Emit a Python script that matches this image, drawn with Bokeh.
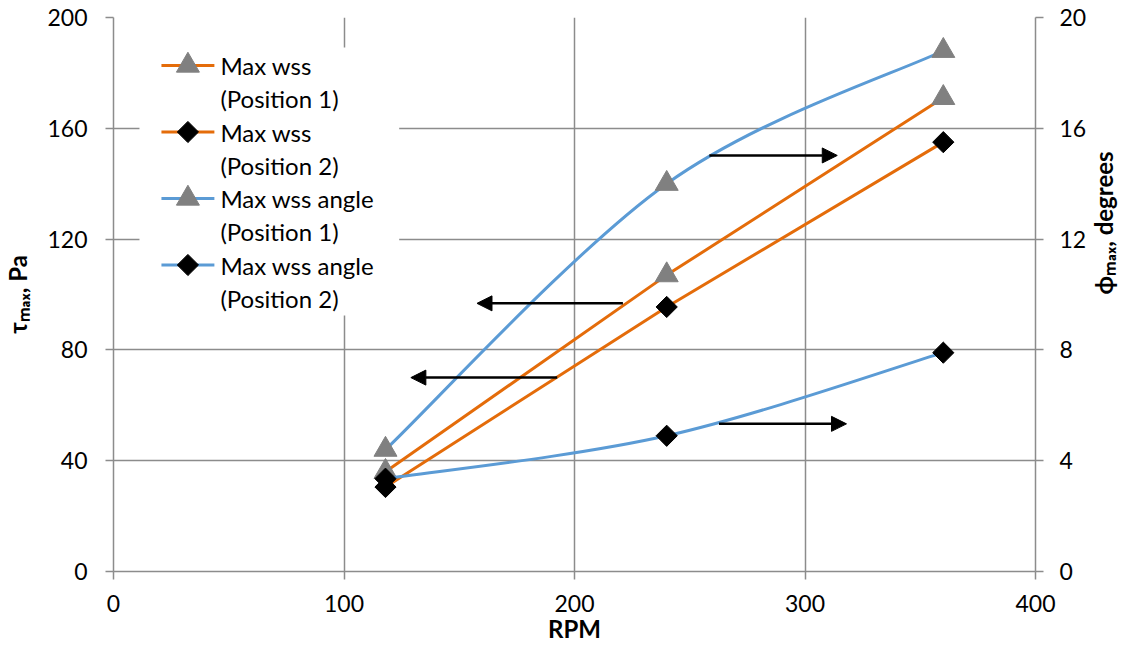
import math
from bokeh.plotting import figure
from bokeh.models import (Range1d, LinearAxis, SingleIntervalTicker, Arrow, NormalHead)
from bokeh.core.properties import value
from bokeh.embed import file_html
from bokeh.resources import INLINE

# ---- data ----
rpm = [118, 240, 360]
wss_pos1 = [36.0, 107.0, 171.0]      # Pa (left axis)
wss_pos2 = [30.5, 95.5, 155.0]       # Pa (left axis)
angle_pos1 = [4.4, 14.0, 18.8]       # degrees (right axis)
angle_pos2 = [3.35, 4.9, 7.9]        # degrees (right axis)

series_labels = ["Max wss", "Max wss", "Max wss angle", "Max wss angle"]
series_sublabels = ["(Position 1)", "(Position 2)", "(Position 1)", "(Position 2)"]

# annotation arrows (left-axis data units)
arrow_x_start = [221.0, 192.5, 258.5, 262.7]
arrow_x_end = [157.7, 129.0, 314.0, 318.0]
arrow_y = [96.8, 70.0, 150.2, 53.3]

# ---- styling / layout ----
ORANGE = "#E46C0A"
BLUE = "#5B9BD5"
GRAY = "#808080"
GRID = "#8C8C8C"
FONT = "Lato"

W, H = 1135, 646
BL, BR, BT, BB = 112, 100, 17, 75
FRAME_W = W - BL - BR
FRAME_H = H - BT - BB
X0, X1, Y0, Y1 = 0, 400, 0, 200


def fx(dx):
    """pixel offset from frame left -> x data"""
    return X0 + dx / FRAME_W * (X1 - X0)


def fy(dy):
    """pixel offset from frame top -> y data"""
    return Y1 - dy / FRAME_H * (Y1 - Y0)


def smooth_segments(xs, ys):
    """Excel-style smoothed line: cubic Bezier segments through the points."""
    n = len(xs)
    out = {k: [] for k in ("x0", "y0", "x1", "y1", "cx0", "cy0", "cx1", "cy1")}
    for i in range(n - 1):
        pm = max(i - 1, 0)
        pp = min(i + 2, n - 1)
        out["x0"].append(xs[i]); out["y0"].append(ys[i])
        out["x1"].append(xs[i + 1]); out["y1"].append(ys[i + 1])
        out["cx0"].append(xs[i] + (xs[i + 1] - xs[pm]) / 6.0)
        out["cy0"].append(ys[i] + (ys[i + 1] - ys[pm]) / 6.0)
        out["cx1"].append(xs[i + 1] - (xs[pp] - xs[i]) / 6.0)
        out["cy1"].append(ys[i + 1] - (ys[pp] - ys[i]) / 6.0)
    return out


p = figure(width=W, height=H, x_range=Range1d(X0, X1), y_range=Range1d(Y0, Y1),
           output_backend="svg", toolbar_location=None,
           min_border_left=BL, min_border_right=BR, min_border_top=BT,
           min_border_bottom=BB)
p.extra_y_ranges = {"angle": Range1d(0, 20)}
p.outline_line_color = None
p.background_fill_color = "white"
p.border_fill_color = "white"


def style_axis(ax):
    ax.axis_line_color = GRID
    ax.axis_line_width = 1.5
    ax.major_tick_line_color = GRID
    ax.major_tick_line_width = 1.5
    ax.major_tick_out = 8
    ax.major_tick_in = 0
    ax.minor_tick_line_color = None
    ax.major_label_text_font = FONT
    ax.major_label_text_font_size = "23px"
    ax.major_label_text_color = "black"
    ax.axis_label_text_font = FONT
    ax.axis_label_text_font_style = "bold"
    ax.axis_label_text_font_size = "24px"
    ax.axis_label_text_color = "black"


p.xaxis.ticker = SingleIntervalTicker(interval=100)
p.yaxis.ticker = SingleIntervalTicker(interval=40)
style_axis(p.xaxis[0])
style_axis(p.yaxis[0])
p.xaxis.axis_label = "RPM"
p.xaxis.major_label_standoff = 15
p.xaxis.axis_label_standoff = -1
p.yaxis.axis_label = "τₘₐₓ, Pa"
p.yaxis.major_label_standoff = 18
p.yaxis.axis_label_standoff = 12

right = LinearAxis(y_range_name="angle", ticker=SingleIntervalTicker(interval=4))
style_axis(right)
right.axis_label = "ϕₘₐₓ, degrees"
right.major_label_standoff = 16
right.axis_label_standoff = 14
right.axis_label_orientation = math.pi / 2
p.add_layout(right, "right")

p.xgrid.ticker = SingleIntervalTicker(interval=100)
p.ygrid.ticker = SingleIntervalTicker(interval=40)
for g in (p.xgrid[0], p.ygrid[0]):
    g.grid_line_color = GRID
    g.grid_line_width = 1.5

# ---- legend box (white, covers grid) ----
LEG_LEFT, LEG_RIGHT, LEG_TOP, LEG_BOTTOM = 26, 286, 30, 298
p.quad(left=[fx(LEG_LEFT)], right=[fx(LEG_RIGHT)], top=[fy(LEG_TOP)],
       bottom=[fy(LEG_BOTTOM)], fill_color="white", line_color=None)

# ---- series ----
p.line(rpm, wss_pos1, line_color=ORANGE, line_width=3)
p.scatter(rpm, wss_pos1, marker="triangle", size=23, fill_color=GRAY, line_color=GRAY)
p.line(rpm, wss_pos2, line_color=ORANGE, line_width=3)
p.scatter(rpm, wss_pos2, marker="square", angle=math.pi / 4, size=15,
          fill_color="black", line_color="black")

b3 = smooth_segments(rpm, angle_pos1)
p.bezier(source=b3, x0="x0", y0="y0", x1="x1", y1="y1", cx0="cx0", cy0="cy0",
         cx1="cx1", cy1="cy1", line_color=BLUE, line_width=3, y_range_name="angle")
p.scatter(rpm, angle_pos1, marker="triangle", size=23, fill_color=GRAY,
          line_color=GRAY, y_range_name="angle")
b4 = smooth_segments(rpm, angle_pos2)
p.bezier(source=b4, x0="x0", y0="y0", x1="x1", y1="y1", cx0="cx0", cy0="cy0",
         cx1="cx1", cy1="cy1", line_color=BLUE, line_width=3, y_range_name="angle")
p.scatter(rpm, angle_pos2, marker="square", angle=math.pi / 4, size=15,
          fill_color="black", line_color="black", y_range_name="angle")

# ---- arrows ----
for xs, xe, yy in zip(arrow_x_start, arrow_x_end, arrow_y):
    p.add_layout(Arrow(end=NormalHead(size=15, fill_color="black", line_color="black"),
                       x_start=xs, y_start=yy, x_end=xe, y_end=yy,
                       line_color="black", line_width=2.5))

# ---- legend entries ----
GL0, GL1, GMK, TXT = 48, 101, 74.5, 107
ROW0, ROW = 48, 33.25
line_colors = [ORANGE, ORANGE, BLUE, BLUE]
markers = [("triangle", 23, GRAY, 0.0), ("square", 15, "black", math.pi / 4),
           ("triangle", 23, GRAY, 0.0), ("square", 15, "black", math.pi / 4)]
for i in range(4):
    yl = fy(ROW0 + 2 * i * ROW)
    yl2 = fy(ROW0 + (2 * i + 1) * ROW)
    p.line([fx(GL0), fx(GL1)], [yl, yl], line_color=line_colors[i], line_width=3)
    mk, sz, col, ang = markers[i]
    p.scatter([fx(GMK)], [yl], marker=mk, size=sz, angle=ang, fill_color=col,
              line_color=col)
    p.text([fx(TXT), fx(TXT)], [yl, yl2], text=[series_labels[i], series_sublabels[i]],
           text_font=value(FONT), text_font_size="24px", text_color="black",
           text_baseline="middle", text_align="left")

open("out.html", "w").write(file_html(p, INLINE))
